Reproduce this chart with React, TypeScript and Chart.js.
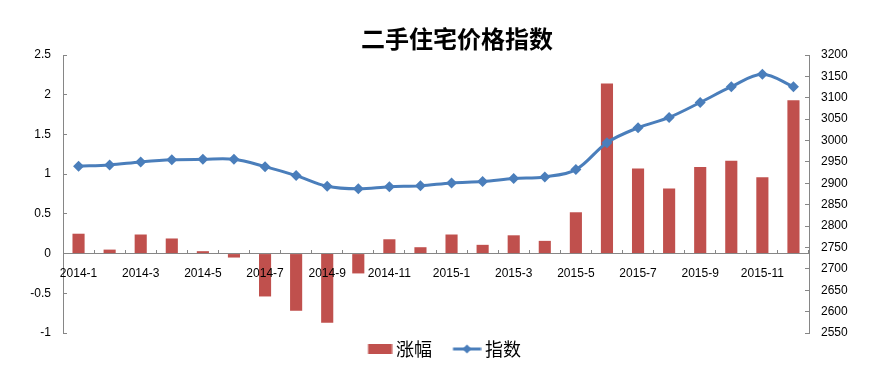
import { useEffect, useRef } from 'react';
import { Chart, registerables } from 'chart.js';

Chart.register(...registerables);

const titleText = '二手住宅价格指数';
const changeLabel = '涨幅';
const indexLabel = '指数';

const categories = [
  '2014-1', '2014-2', '2014-3', '2014-4', '2014-5', '2014-6',
  '2014-7', '2014-8', '2014-9', '2014-10', '2014-11', '2014-12',
  '2015-1', '2015-2', '2015-3', '2015-4', '2015-5', '2015-6',
  '2015-7', '2015-8', '2015-9', '2015-10', '2015-11', '2015-12',
];

const changeValues = [
  0.25, 0.05, 0.24, 0.19, 0.03, -0.05,
  -0.54, -0.72, -0.87, -0.25, 0.18, 0.08,
  0.24, 0.11, 0.23, 0.16, 0.52, 2.14,
  1.07, 0.82, 1.09, 1.17, 0.96, 1.93,
];

const indexValues = [
  2940, 2943, 2950, 2955, 2956, 2956,
  2939, 2918, 2893, 2887, 2892, 2894,
  2901, 2904, 2911, 2915, 2932, 2995,
  3030, 3054, 3089, 3126, 3155, 3126,
];

const leftAxis = { min: -1, max: 2.5, step: 0.5 };
const rightAxis = { min: 2550, max: 3200, step: 50 };

const BAR_COLOR = '#C0504D';
const LINE_COLOR = '#4A7EBB';
const AXIS_COLOR = '#868686';

function makeBarSymbol() {
  const c = document.createElement('canvas');
  c.width = 48;
  c.height = 10;
  const g = c.getContext('2d')!;
  g.fillStyle = BAR_COLOR;
  g.fillRect(23.5, 0, 24, 10);
  return c;
}

function makeLineSymbol() {
  const c = document.createElement('canvas');
  c.width = 48;
  c.height = 10;
  const g = c.getContext('2d')!;
  g.strokeStyle = LINE_COLOR;
  g.lineWidth = 3;
  g.beginPath();
  g.moveTo(19.5, 5);
  g.lineTo(47.5, 5);
  g.stroke();
  g.fillStyle = LINE_COLOR;
  g.beginPath();
  g.moveTo(33.5, 0.5);
  g.lineTo(38, 5);
  g.lineTo(33.5, 9.5);
  g.lineTo(29, 5);
  g.closePath();
  g.fill();
  return c;
}

const titlePlugin = {
  id: 'customTitle',
  afterDraw(chart: any) {
    const { ctx, chartArea } = chart;
    ctx.save();
    ctx.font = 'bold 24px "Noto Sans CJK SC"';
    ctx.fillStyle = '#000';
    ctx.textAlign = 'center';
    ctx.textBaseline = 'middle';
    ctx.fillText(titleText, (chartArea.left + chartArea.right) / 2 + 21, chartArea.top - 16);
    ctx.restore();
  },
};

export default function App() {
  const ref = useRef<HTMLCanvasElement | null>(null);

  useEffect(() => {
    document.body.style.margin = '0';
    if (!ref.current) return;
    const barSymbol = makeBarSymbol();
    const lineSymbol = makeLineSymbol();
    const tickFont = { family: '"Liberation Sans", Arial, sans-serif', size: 12 };

    const chart = new Chart(ref.current, {
      type: 'bar',
      data: {
        labels: categories,
        datasets: [
          {
            type: 'bar',
            label: changeLabel,
            data: changeValues,
            backgroundColor: BAR_COLOR,
            barPercentage: 0.39,
            categoryPercentage: 1,
            yAxisID: 'y',
            order: 1,
            pointStyle: barSymbol as any,
          },
          {
            type: 'line',
            label: indexLabel,
            data: indexValues,
            borderColor: LINE_COLOR,
            backgroundColor: LINE_COLOR,
            borderWidth: 3,
            tension: 0.35,
            pointStyle: 'rectRot',
            pointRadius: 5.5,
            pointBackgroundColor: LINE_COLOR,
            pointBorderColor: LINE_COLOR,
            pointBorderWidth: 0,
            yAxisID: 'y1',
            order: 0,
          },
        ],
      },
      options: {
        animation: false,
        responsive: false,
        layout: { padding: { top: 55, bottom: 18, left: 0, right: 0 } },
        plugins: {
          title: { display: false },
          tooltip: { enabled: false },
          legend: {
            display: true,
            position: 'bottom',
            labels: {
              usePointStyle: true,
              pointStyleWidth: 37,
              boxHeight: 10,
              padding: 7,
              color: '#000',
              font: { family: '"Noto Sans CJK SC", sans-serif', size: 18 },
              sort: (a: any, b: any) => a.datasetIndex - b.datasetIndex,
              generateLabels: (ch: any) => {
                const items = Chart.defaults.plugins.legend.labels.generateLabels(ch);
                return items.map((it: any) => ({
                  ...it,
                  pointStyle: it.datasetIndex === 0 ? barSymbol : lineSymbol,
                }));
              },
            },
          },
        },
        scales: {
          x: {
            type: 'category',
            position: { y: 0 } as any,
            offset: true,
            grid: {
              display: true,
              drawOnChartArea: false,
              drawTicks: true,
              tickLength: -4,
              offset: true,
              color: AXIS_COLOR,
            },
            border: { display: true, color: AXIS_COLOR },
            ticks: {
              z: 1,
              autoSkip: false,
              maxRotation: 0,
              minRotation: 0,
              padding: 17,
              color: '#000',
              font: tickFont,
              callback: (_v: any, i: number) => (i % 2 === 0 ? categories[i] : ''),
            },
          },
          y: {
            type: 'linear',
            position: 'left',
            min: leftAxis.min,
            max: leftAxis.max,
            grid: {
              display: true,
              drawOnChartArea: false,
              drawTicks: true,
              tickLength: -4,
              color: AXIS_COLOR,
            },
            border: { display: true, color: AXIS_COLOR },
            ticks: {
              stepSize: leftAxis.step,
              padding: 16,
              color: '#000',
              font: tickFont,
              callback: (v: any) => String(v),
            },
            afterFit: (s: any) => {
              s.width = 63;
            },
          },
          y1: {
            type: 'linear',
            position: 'right',
            min: rightAxis.min,
            max: rightAxis.max,
            grid: {
              display: true,
              drawOnChartArea: false,
              drawTicks: true,
              tickLength: -4,
              color: AXIS_COLOR,
            },
            border: { display: true, color: AXIS_COLOR },
            ticks: {
              stepSize: rightAxis.step,
              padding: 16,
              color: '#000',
              font: tickFont,
              callback: (v: any) => String(v),
            },
            afterFit: (s: any) => {
              s.width = 62;
            },
          },
        },
      },
      plugins: [titlePlugin],
    });
    return () => chart.destroy();
  }, []);

  return (
    <div style={{ width: 871, height: 386, background: '#fff' }}>
      <canvas ref={ref} width={871} height={386} />
    </div>
  );
}
